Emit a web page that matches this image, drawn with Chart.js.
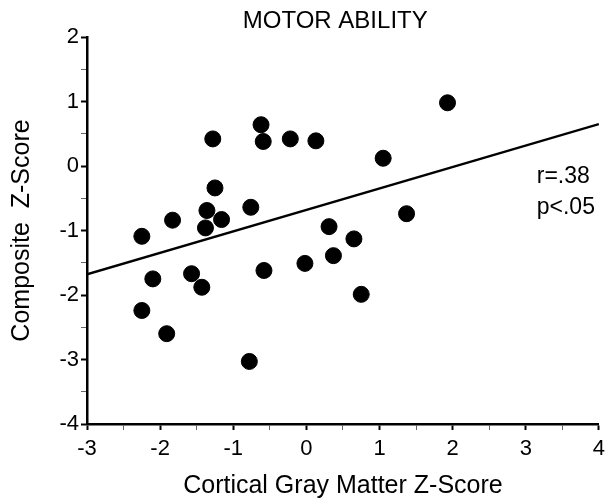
<!DOCTYPE html>
<html>
<head>
<meta charset="utf-8">
<script src="https://cdn.jsdelivr.net/npm/chart.js@4/dist/chart.umd.min.js"></script>
<style>
  html, body { margin: 0; padding: 0; background: #fff; }
  #wrap { width: 611px; height: 502px; }
</style>
</head>
<body>
<div id="wrap"><canvas id="c"></canvas></div>
<script>
// values
var grayMatterZ = [-2.25, -2.25, -2.10, -1.91, -1.83, -1.57, -1.43, -1.36, -1.38, -1.28,
                   -1.25, -1.16, -0.76, -0.78, -0.62, -0.59, -0.58, -0.22, 0.13, -0.02,
                   0.31, 0.37, 0.65, 0.75, 1.05, 1.37, 1.93];
var compositeZ  = [-1.09, -2.24, -1.75, -2.60, -0.84, -1.67, -1.88, -0.69, -0.96, 0.42,
                   -0.34, -0.83, -0.64, -3.03, 0.64, 0.38, -1.62, 0.42, 0.39, -1.51,
                   -0.94, -1.39, -1.13, -1.99, 0.12, -0.74, 0.98];
var fitX = [-3, 4];
var fitY = [-1.68, 0.65];
var statsText = ['r=.38', 'p<.05'];
var statsAt = { x: 3.15, y: [-0.17, -0.65] };

var FONT = '"Liberation Sans", Arial, Helvetica, sans-serif';
Chart.defaults.font.family = FONT;
Chart.defaults.color = '#000';

var points = grayMatterZ.map(function (x, i) { return { x: x, y: compositeZ[i] }; });
var fitLine = fitX.map(function (x, i) { return { x: x, y: fitY[i] }; });

// title + r/p text
var textPlugin = {
    id: 'figText',
    afterDraw: function (chart) {
        var ctx = chart.ctx, xs = chart.scales.x, ys = chart.scales.y;
        ctx.save();
        ctx.fillStyle = '#000';
        ctx.textBaseline = 'middle';
        ctx.font = '24px ' + FONT;
        ctx.textAlign = 'center';
        ctx.fillText('MOTOR ABILITY', chart.chartArea.left + chart.chartArea.width * 0.485, 21);
        ctx.font = '23px ' + FONT;
        ctx.textAlign = 'left';
        statsText.forEach(function (t, i) {
            ctx.fillText(t, xs.getPixelForValue(statsAt.x), ys.getPixelForValue(statsAt.y[i]));
        });
        ctx.restore();
    }
};

function isWhole(v) { return Math.abs(v - Math.round(v)) < 1e-6; }

new Chart(document.getElementById('c'), {
    type: 'scatter',
    data: {
        datasets: [
            {
                data: points,
                backgroundColor: '#000',
                borderColor: '#000',
                pointRadius: 8,
                pointHoverRadius: 8
            },
            {
                type: 'line',
                data: fitLine,
                borderColor: '#000',
                borderWidth: 2.5,
                pointRadius: 0,
                fill: false
            }
        ]
    },
    options: {
        responsive: true,
        maintainAspectRatio: false,
        animation: false,
        events: [],
        layout: { autoPadding: false, padding: { left: 0, right: 9, top: 37, bottom: 0 } },
        plugins: { legend: { display: false }, tooltip: { enabled: false }, title: { display: false } },
        scales: {
            x: {
                type: 'linear',
                min: -3, max: 4,
                afterFit: function (s) { s.height = 78; },
                border: { color: '#000', width: 2.5 },
                grid: {
                    drawOnChartArea: false,
                    tickLength: 6,
                    tickColor: function (c) { return isWhole(c.tick.value) ? '#000' : '#666'; },
                    tickWidth: function (c) { return isWhole(c.tick.value) ? 2 : 1; }
                },
                ticks: {
                    stepSize: 0.5,
                    autoSkip: false,
                    maxRotation: 0,
                    padding: 6,
                    font: { size: 22 },
                    callback: function (v) { return isWhole(v) ? String(v) : ''; }
                },
                title: {
                    display: true,
                    text: 'Cortical Gray Matter Z-Score',
                    font: { size: 25 },
                    padding: { top: 0, bottom: 1 }
                }
            },
            y: {
                type: 'linear',
                min: -4, max: 2,
                afterFit: function (s) { s.width = 87; },
                border: { color: '#000', width: 2.5 },
                grid: {
                    drawOnChartArea: false,
                    tickLength: 6,
                    tickColor: function (c) { return isWhole(c.tick.value) ? '#000' : '#666'; },
                    tickWidth: function (c) { return isWhole(c.tick.value) ? 2 : 1; }
                },
                ticks: {
                    stepSize: 0.5,
                    autoSkip: false,
                    padding: 2,
                    font: { size: 22 },
                    callback: function (v) { return isWhole(v) ? String(v) : ''; }
                },
                title: {
                    display: true,
                    text: 'Composite  Z-Score',
                    font: { size: 25 },
                    padding: { top: 7, bottom: 0 }
                }
            }
        }
    },
    plugins: [textPlugin]
});
</script>
</body>
</html>
